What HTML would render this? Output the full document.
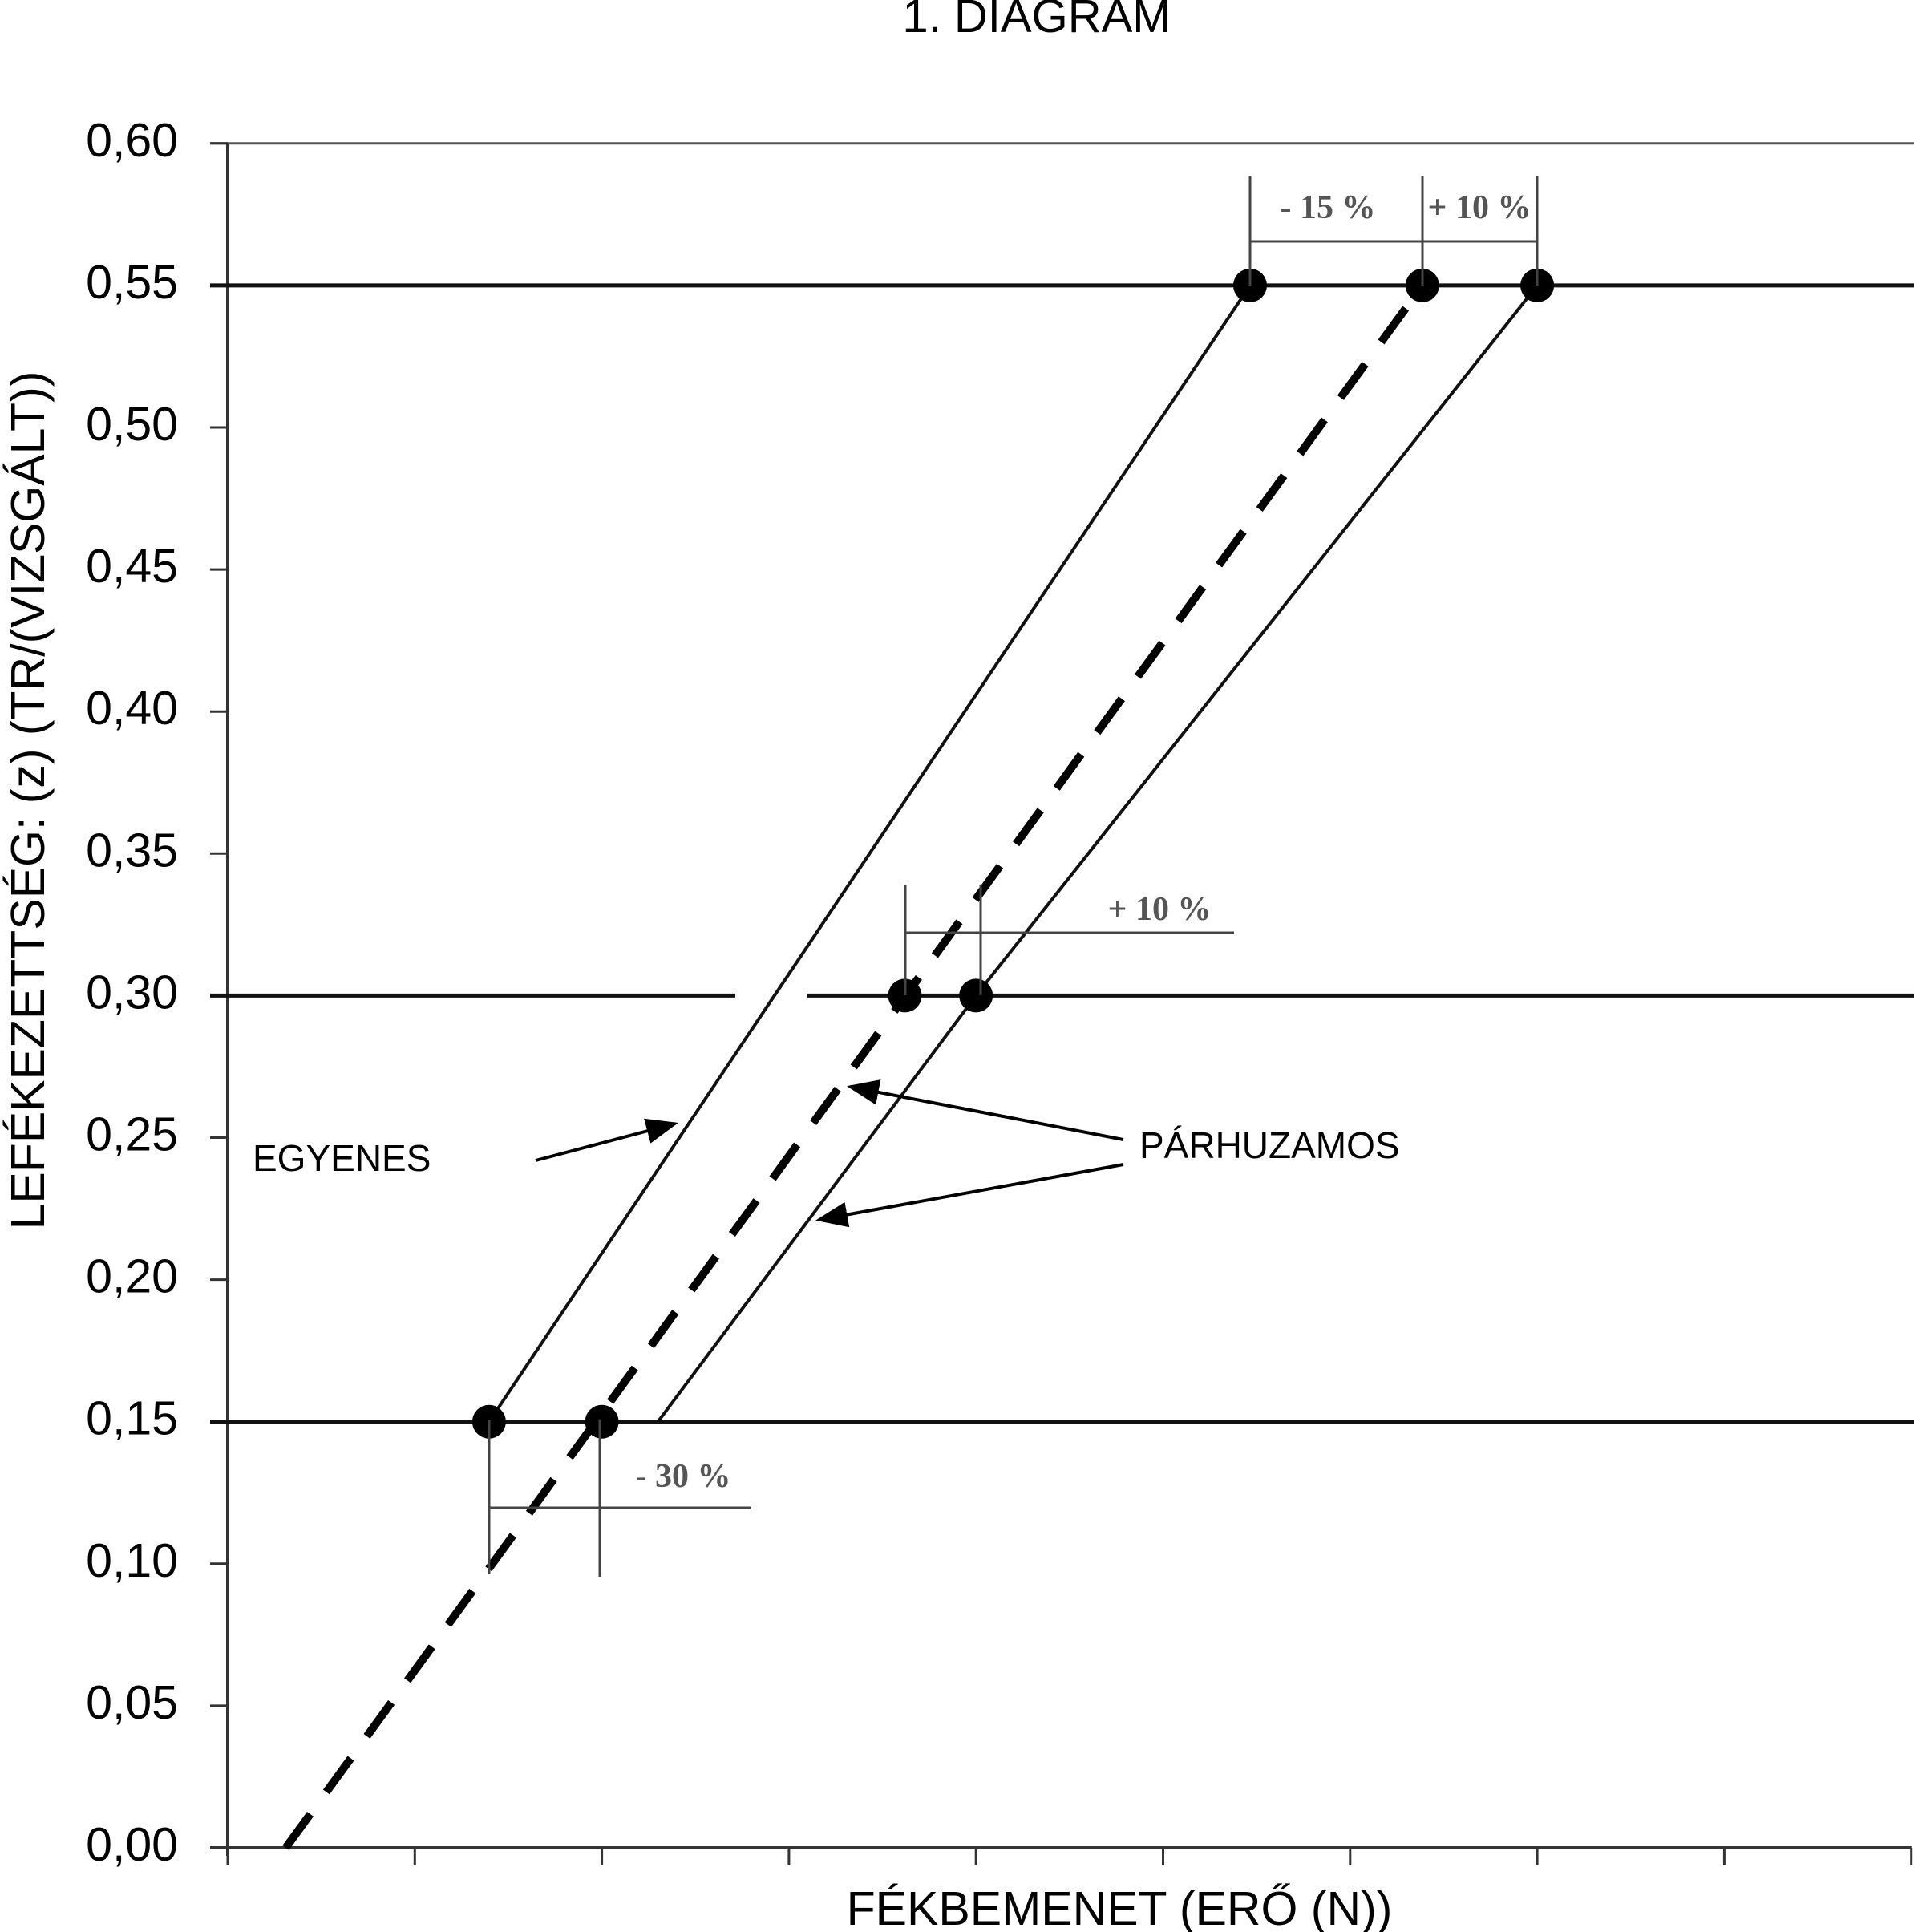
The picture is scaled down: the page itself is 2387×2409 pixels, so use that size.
<!DOCTYPE html>
<html><head><meta charset="utf-8"><style>
html,body{margin:0;padding:0;background:#fff;}
svg{display:block;}
text{font-family:"Liberation Sans",sans-serif;fill:#000;}
.pct{font-family:"Liberation Serif",serif;fill:#555;font-size:42px;font-weight:bold;}
</style></head><body>
<svg id="chart" width="2387" height="2409" viewBox="0 0 2387 2409" xmlns="http://www.w3.org/2000/svg">
<defs><marker id="ah" markerWidth="10" markerHeight="8" refX="9" refY="4" orient="auto"><path d="M0,0 L10,4 L0,8 Z" fill="#000"/></marker></defs>
<text x="1293" y="40" font-size="58" text-anchor="middle">1. DIAGRAM</text>
<text x="0" y="0" font-size="59" text-anchor="middle" transform="translate(55,998) rotate(-90)">LEFÉKEZETTSÉG: (z) (TR/(VIZSGÁLT))</text>
<text x="1396" y="2400" font-size="59" text-anchor="middle">FÉKBEMENET (ERŐ (N))</text>
<g id="axes"></g>
<g id="marks"></g>
<g stroke="#444" stroke-width="3" fill="none">
<path d="M1559,220V356M1774,220V356M1917,220V356M1559,301H1917"/>
<path d="M1129,1103V1241M1223,1103V1241M1129,1163H1539"/>
<path d="M610,1771V1963M748,1771V1966M610,1880H937"/>
</g>
<text class="pct" x="1656" y="272" text-anchor="middle">- 15 %</text>
<text class="pct" x="1845" y="272" text-anchor="middle">+ 10 %</text>
<text class="pct" x="1446" y="1147" text-anchor="middle">+ 10 %</text>
<text class="pct" x="852" y="1854" text-anchor="middle">- 30 %</text>
<text x="315" y="1460" font-size="46">EGYENES</text>
<text x="1421" y="1444" font-size="46">PÁRHUZAMOS</text>
<g stroke="#000" stroke-width="4" fill="none">
<line x1="668" y1="1447" x2="842" y2="1401" marker-end="url(#ah)"/>
<line x1="1401" y1="1421" x2="1060" y2="1355" marker-end="url(#ah)"/>
<line x1="1401" y1="1452" x2="1021" y2="1521" marker-end="url(#ah)"/>
</g>
</svg>
<script>
const yTicks=[0,0.05,0.10,0.15,0.20,0.25,0.30,0.35,0.40,0.45,0.50,0.55,0.60];
const yTickLabels=["0,00","0,05","0,10","0,15","0,20","0,25","0,30","0,35","0,40","0,45","0,50","0,55","0,60"];
const xTicks=[0,1,2,3,4,5,6,7,8,9];
const refLevels=[0.15,0.30,0.55];
const dashedX=[0.31,6.386];
const dashedY=[0,0.55];
const leftX=[1.397,5.465];
const leftY=[0.15,0.55];
const rightX=[2.3,4.0,7.0];
const rightY=[0.15,0.30,0.55];
const pointX=[1.397,2.0,3.62,4.0,5.465,6.386,7.0];
const pointY=[0.15,0.15,0.30,0.30,0.55,0.55,0.55];

const X0=284,XS=233.3,Y0=2304,YS=3542;
const sx=v=>X0+v*XS, sy=v=>Y0-v*YS;
const NS="http://www.w3.org/2000/svg";
const axes=document.getElementById('axes'), marks=document.getElementById('marks');
function mk(tag,attrs,parent){const e=document.createElementNS(NS,tag);for(const k in attrs)e.setAttribute(k,attrs[k]);parent.appendChild(e);return e;}

let e=mk('line',{x1:sx(0),y1:sy(0.6),x2:sx(0),y2:sy(0)+10,stroke:'#333','stroke-width':4},axes);


e=mk('line',{x1:sx(0)-22,y1:sy(0),x2:sx(9),y2:sy(0),stroke:'#333','stroke-width':4},axes);


e=mk('line',{x1:sx(0)-22,y1:sy(0.6),x2:2387,y2:sy(0.6),stroke:'#555','stroke-width':3},axes);


yTicks.forEach((t,i)=>{
  const l=mk('line',{x1:sx(0)-22,y1:sy(t),x2:sx(0),y2:sy(t),stroke:'#333','stroke-width':3},axes);
  
  
  const tx=mk('text',{x:222,y:sy(t)+16,'font-size':59,'text-anchor':'end'},axes);
  tx.textContent=yTickLabels[i];
  
  
});
xTicks.forEach(t=>{
  const l=mk('line',{x1:sx(t),y1:sy(0),x2:sx(t),y2:sy(0)+22,stroke:'#333','stroke-width':3},axes);
  
  
});
refLevels.forEach(v=>{
  let d;
  if(v===0.30){d=`M${sx(0)-22},${sy(v)}H917M1006,${sy(v)}H2387`;}
  else d=`M${sx(0)-22},${sy(v)}H2387`;
  const p=mk('path',{d:d,stroke:'#111','stroke-width':5,fill:'none'},marks);
  
  
});
function poly(xs,ys){return xs.map((x,i)=>sx(x)+','+sy(ys[i])).join(' ');}
e=mk('polyline',{points:poly(dashedX,dashedY),stroke:'#000','stroke-width':10,fill:'none','stroke-dasharray':'52 34'},marks);


e=mk('polyline',{points:poly(leftX,leftY),stroke:'#111','stroke-width':4,fill:'none'},marks);


e=mk('polyline',{points:poly(rightX,rightY),stroke:'#111','stroke-width':4,fill:'none'},marks);


pointX.forEach((x,i)=>{
  const c=mk('circle',{cx:sx(x),cy:sy(pointY[i]),r:21,fill:'#000'},marks);
  
  
});
</script>
</body></html>
